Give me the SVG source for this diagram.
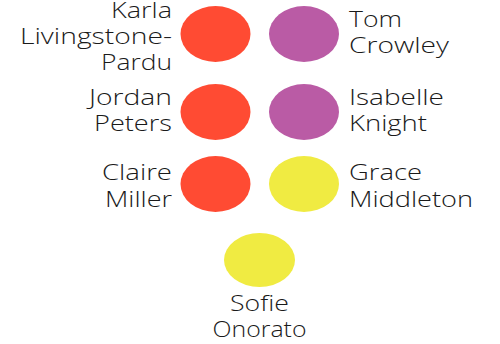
<svg xmlns="http://www.w3.org/2000/svg" width="500" height="344" viewBox="0 0 500 344">
<style>
text{font-family:"Open Sans","Liberation Sans",sans-serif;font-weight:300;font-size:22.5px;fill:#1a1a1a;font-variant-ligatures:none}
.l{text-anchor:end}.r{text-anchor:start}.c{text-anchor:middle}
.red{fill:#FF4B33}.pur{fill:#BA5BA5}.yel{fill:#F0EB42}
</style>
<rect width="500" height="344" fill="#fff"/>
<g id="connectors"/>
<g id="karla"><ellipse class="red" cx="215.5" cy="34" rx="35" ry="28"/><text class="l" x="172" y="18" textLength="61" lengthAdjust="spacingAndGlyphs">Karla</text><text class="l" x="172" y="44" textLength="152" lengthAdjust="spacingAndGlyphs">Livingstone-</text><text class="l" x="172" y="70" textLength="71" lengthAdjust="spacingAndGlyphs">Pardu</text></g>
<g id="tom"><ellipse class="pur" cx="304" cy="34" rx="35" ry="28"/><text class="r" x="349" y="27" textLength="53" lengthAdjust="spacingAndGlyphs">Tom</text><text class="r" x="349" y="53" textLength="100" lengthAdjust="spacingAndGlyphs">Crowley</text></g>
<g id="jordan"><ellipse class="red" cx="215.5" cy="112" rx="35" ry="28"/><text class="l" x="172" y="105" textLength="83" lengthAdjust="spacingAndGlyphs">Jordan</text><text class="l" x="172" y="131" textLength="78" lengthAdjust="spacingAndGlyphs">Peters</text></g>
<g id="isabelle"><ellipse class="pur" cx="304" cy="112" rx="35" ry="28"/><text class="r" x="349" y="105" textLength="95" lengthAdjust="spacingAndGlyphs">Isabelle</text><text class="r" x="349" y="131" textLength="78" lengthAdjust="spacingAndGlyphs">Knight</text></g>
<g id="claire"><ellipse class="red" cx="215.5" cy="184" rx="35" ry="28"/><text class="l" x="172" y="180" textLength="70" lengthAdjust="spacingAndGlyphs">Claire</text><text class="l" x="172" y="207" textLength="67" lengthAdjust="spacingAndGlyphs">Miller</text></g>
<g id="grace"><ellipse class="yel" cx="304" cy="184" rx="35" ry="28"/><text class="r" x="349" y="180" textLength="73" lengthAdjust="spacingAndGlyphs">Grace</text><text class="r" x="349" y="207" textLength="124" lengthAdjust="spacingAndGlyphs">Middleton</text></g>
<g id="sofie"><ellipse class="yel" cx="259.5" cy="260" rx="35.5" ry="27"/><text class="c" x="259.5" y="311" textLength="59" lengthAdjust="spacingAndGlyphs">Sofie</text><text class="c" x="259.5" y="337" textLength="94" lengthAdjust="spacingAndGlyphs">Onorato</text></g>
</svg>
